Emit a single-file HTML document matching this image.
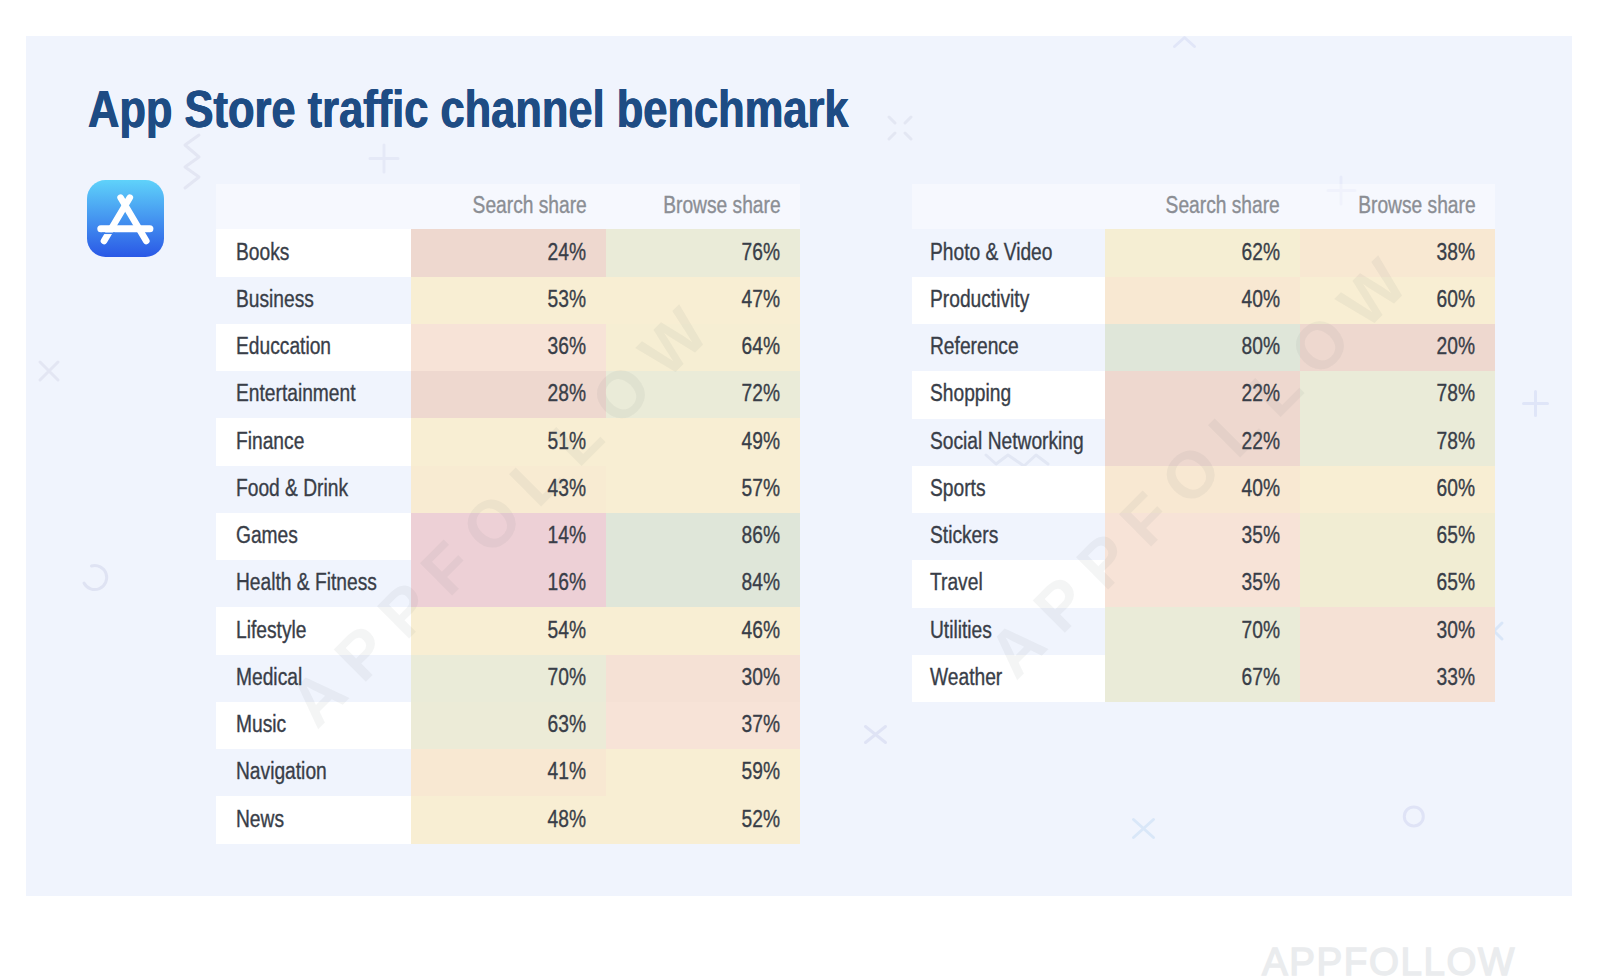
<!DOCTYPE html>
<html><head><meta charset="utf-8"><title>App Store traffic channel benchmark</title>
<style>
html,body{margin:0;padding:0;background:#fff;}
body{width:1600px;height:976px;position:relative;overflow:hidden;font-family:"Liberation Sans",sans-serif;}
#panel{position:absolute;left:25.5px;top:36.2px;width:1546.5px;height:859.6px;background:#f0f4fd;}
#title{position:absolute;left:88px;top:79.7px;font-size:51px;font-weight:bold;color:#1e4c84;white-space:nowrap;line-height:60px;transform-origin:0 50%;transform:scaleX(0.852);text-shadow:0.5px 0 0 #1e4c84,-0.5px 0 0 #1e4c84;}
.c{position:absolute;font-size:23px;color:#393e48;white-space:nowrap;-webkit-text-stroke:0.35px currentColor;}
.hd{position:absolute;background:rgba(255,255,255,0.38);}
.c span{position:absolute;top:50%;line-height:26px;margin-top:-14.5px;}
.c .l{transform-origin:0 50%;transform:scaleX(0.835);}
.c .r{transform-origin:100% 50%;transform:scaleX(0.835);}
.h{color:#8b8e94;}
#icon{position:absolute;left:86.6px;top:180.4px;width:77px;height:77px;}
.wm{position:absolute;font-size:66px;line-height:66px;font-weight:bold;letter-spacing:17px;color:rgba(110,115,125,0.075);white-space:nowrap;transform:translate(-50%,-50%) rotate(-45deg);}
#foot{position:absolute;left:1262px;top:940px;font-size:38.5px;letter-spacing:1.6px;color:#eaecee;-webkit-text-stroke:1.4px #eaecee;white-space:nowrap;line-height:44px;}
#deco{position:absolute;left:0;top:0;}
</style></head><body>
<div id="panel"></div>
<svg id="deco" width="1600" height="976" viewBox="0 0 1600 976" fill="none" stroke-linecap="round" stroke-linejoin="round" stroke-width="3">
<polyline points="199,135 185,145 199,157 185,167 199,177 185,188" stroke="#e3e6f3"/>
<path d="M384 145v27M370 158.5h28" stroke="#e5e9f7"/>
<path d="M889 117l6 6M911 117l-6 6M889 139l6-6M911 139l-6-6" stroke="#e3e7f3"/>
<polyline points="1174.500,46.500 1184.500,37.500 1194.500,46.500" stroke="#e1e6f8"/>
<path d="M1341 177v27M1328 190.500h27" stroke="#e7ebfa"/>
<path d="M40 362l18 18M58 362l-18 18" stroke="#e3e6f3"/>
<path d="M91.500 566a12 12 0 1 1-7.500 17" stroke="#dfe3f3"/>
<path d="M865.500 726.500l20 16M885.500 726.500l-20 16" stroke="#dfe3f5"/>
<path d="M1133.500 819.500l20 18M1153.500 819.500l-20 18" stroke="#d9e7f8"/>
<circle cx="1413.800" cy="816.400" r="9.500" stroke="#dfe3f6"/>
<path d="M1535.500 391.500v24M1523.500 403.500h24" stroke="#dfe5f8"/>
<path d="M1486 623l16 16M1502 623l-16 16" stroke="#d9e6f8"/>
<polyline points="986,455 996,464 1008,455 1024,466 1036,455 1048,464" stroke="#e2e7f4"/>
</svg>
<div id="title">App Store traffic channel benchmark</div>
<svg id="icon" viewBox="0 0 77 77"><defs><linearGradient id="g" x1="0" y1="0" x2="0" y2="1"><stop offset="0" stop-color="#5fd2fa"/><stop offset="1" stop-color="#2a58e6"/></linearGradient></defs>
<rect x="0" y="0" width="77" height="77" rx="18.5" ry="18.5" fill="url(#g)"/>
<g stroke="#fff" stroke-width="6.600" stroke-linecap="round" fill="none">
<line x1="33.6" y1="17.6" x2="59.3" y2="61"/><line x1="42.8" y1="17.6" x2="17" y2="61"/><line x1="13.8" y1="48.700" x2="62.9" y2="48.700" stroke-width="7"/></g>
<line x1="15" y1="53.300" x2="28" y2="53.300" stroke="#3b7fec" stroke-width="1.500"/></svg>
<div class="hd" style="left:216px;top:184px;width:584px;height:45.400000000000006px"></div>
<div class="c h" style="left:411px;top:184px;width:195px;height:45.400000000000006px"><span class="r" style="right:19.5px">Search share</span></div>
<div class="c h" style="left:606px;top:184px;width:194px;height:45.400000000000006px"><span class="r" style="right:19.5px">Browse share</span></div>
<div class="c n" style="left:216px;top:229.4px;width:195px;height:47.5px;background:#ffffff"><span class="l" style="left:19.8px">Books</span></div>
<div class="c v" style="left:411px;top:229.4px;width:195px;height:47.5px;background:#eed8cf"><span class="r" style="right:19.5px">24%</span></div>
<div class="c v" style="left:606px;top:229.4px;width:194px;height:47.5px;background:#eaebd8"><span class="r" style="right:19.5px">76%</span></div>
<div class="c n" style="left:216px;top:276.6px;width:195px;height:47.5px;background:transparent"><span class="l" style="left:19.8px">Business</span></div>
<div class="c v" style="left:411px;top:276.6px;width:195px;height:47.5px;background:#f8eed3"><span class="r" style="right:19.5px">53%</span></div>
<div class="c v" style="left:606px;top:276.6px;width:194px;height:47.5px;background:#f8eed3"><span class="r" style="right:19.5px">47%</span></div>
<div class="c n" style="left:216px;top:323.9px;width:195px;height:47.5px;background:#ffffff"><span class="l" style="left:19.8px">Educcation</span></div>
<div class="c v" style="left:411px;top:323.9px;width:195px;height:47.5px;background:#f7e3d7"><span class="r" style="right:19.5px">36%</span></div>
<div class="c v" style="left:606px;top:323.9px;width:194px;height:47.5px;background:#f6eed3"><span class="r" style="right:19.5px">64%</span></div>
<div class="c n" style="left:216px;top:371.1px;width:195px;height:47.5px;background:transparent"><span class="l" style="left:19.8px">Entertainment</span></div>
<div class="c v" style="left:411px;top:371.1px;width:195px;height:47.5px;background:#eed8cf"><span class="r" style="right:19.5px">28%</span></div>
<div class="c v" style="left:606px;top:371.1px;width:194px;height:47.5px;background:#eaebd8"><span class="r" style="right:19.5px">72%</span></div>
<div class="c n" style="left:216px;top:418.4px;width:195px;height:47.5px;background:#ffffff"><span class="l" style="left:19.8px">Finance</span></div>
<div class="c v" style="left:411px;top:418.4px;width:195px;height:47.5px;background:#f8eed3"><span class="r" style="right:19.5px">51%</span></div>
<div class="c v" style="left:606px;top:418.4px;width:194px;height:47.5px;background:#f8eed3"><span class="r" style="right:19.5px">49%</span></div>
<div class="c n" style="left:216px;top:465.6px;width:195px;height:47.5px;background:transparent"><span class="l" style="left:19.8px">Food &amp; Drink</span></div>
<div class="c v" style="left:411px;top:465.6px;width:195px;height:47.5px;background:#f8ebd2"><span class="r" style="right:19.5px">43%</span></div>
<div class="c v" style="left:606px;top:465.6px;width:194px;height:47.5px;background:#f8eed3"><span class="r" style="right:19.5px">57%</span></div>
<div class="c n" style="left:216px;top:512.9px;width:195px;height:47.5px;background:#ffffff"><span class="l" style="left:19.8px">Games</span></div>
<div class="c v" style="left:411px;top:512.9px;width:195px;height:47.5px;background:#edd0d6"><span class="r" style="right:19.5px">14%</span></div>
<div class="c v" style="left:606px;top:512.9px;width:194px;height:47.5px;background:#dfe6d9"><span class="r" style="right:19.5px">86%</span></div>
<div class="c n" style="left:216px;top:560.1px;width:195px;height:47.5px;background:transparent"><span class="l" style="left:19.8px">Health &amp; Fitness</span></div>
<div class="c v" style="left:411px;top:560.1px;width:195px;height:47.5px;background:#edd0d6"><span class="r" style="right:19.5px">16%</span></div>
<div class="c v" style="left:606px;top:560.1px;width:194px;height:47.5px;background:#dfe6d9"><span class="r" style="right:19.5px">84%</span></div>
<div class="c n" style="left:216px;top:607.4px;width:195px;height:47.5px;background:#ffffff"><span class="l" style="left:19.8px">Lifestyle</span></div>
<div class="c v" style="left:411px;top:607.4px;width:195px;height:47.5px;background:#f8eed3"><span class="r" style="right:19.5px">54%</span></div>
<div class="c v" style="left:606px;top:607.4px;width:194px;height:47.5px;background:#f8eed3"><span class="r" style="right:19.5px">46%</span></div>
<div class="c n" style="left:216px;top:654.6px;width:195px;height:47.5px;background:transparent"><span class="l" style="left:19.8px">Medical</span></div>
<div class="c v" style="left:411px;top:654.6px;width:195px;height:47.5px;background:#eaebd8"><span class="r" style="right:19.5px">70%</span></div>
<div class="c v" style="left:606px;top:654.6px;width:194px;height:47.5px;background:#f5e1d5"><span class="r" style="right:19.5px">30%</span></div>
<div class="c n" style="left:216px;top:701.9px;width:195px;height:47.5px;background:#ffffff"><span class="l" style="left:19.8px">Music</span></div>
<div class="c v" style="left:411px;top:701.9px;width:195px;height:47.5px;background:#ecebd7"><span class="r" style="right:19.5px">63%</span></div>
<div class="c v" style="left:606px;top:701.9px;width:194px;height:47.5px;background:#f7e3d7"><span class="r" style="right:19.5px">37%</span></div>
<div class="c n" style="left:216px;top:749.1px;width:195px;height:47.5px;background:transparent"><span class="l" style="left:19.8px">Navigation</span></div>
<div class="c v" style="left:411px;top:749.1px;width:195px;height:47.5px;background:#f8e8d2"><span class="r" style="right:19.5px">41%</span></div>
<div class="c v" style="left:606px;top:749.1px;width:194px;height:47.5px;background:#f8eed3"><span class="r" style="right:19.5px">59%</span></div>
<div class="c n" style="left:216px;top:796.4px;width:195px;height:47.5px;background:#ffffff"><span class="l" style="left:19.8px">News</span></div>
<div class="c v" style="left:411px;top:796.4px;width:195px;height:47.5px;background:#f8eed3"><span class="r" style="right:19.5px">48%</span></div>
<div class="c v" style="left:606px;top:796.4px;width:194px;height:47.5px;background:#f8eed3"><span class="r" style="right:19.5px">52%</span></div>
<div class="hd" style="left:912px;top:184px;width:583.3px;height:45.400000000000006px"></div>
<div class="c h" style="left:1105px;top:184px;width:194.5px;height:45.400000000000006px"><span class="r" style="right:19.8px">Search share</span></div>
<div class="c h" style="left:1299.5px;top:184px;width:195.79999999999995px;height:45.400000000000006px"><span class="r" style="right:19.8px">Browse share</span></div>
<div class="c n" style="left:912px;top:229.4px;width:193px;height:47.5px;background:transparent"><span class="l" style="left:18px">Photo &amp; Video</span></div>
<div class="c v" style="left:1105px;top:229.4px;width:194.5px;height:47.5px;background:#f5eed3"><span class="r" style="right:19.8px">62%</span></div>
<div class="c v" style="left:1299.5px;top:229.4px;width:195.79999999999995px;height:47.5px;background:#f8e8d2"><span class="r" style="right:19.8px">38%</span></div>
<div class="c n" style="left:912px;top:276.6px;width:193px;height:47.5px;background:#ffffff"><span class="l" style="left:18px">Productivity</span></div>
<div class="c v" style="left:1105px;top:276.6px;width:194.5px;height:47.5px;background:#f8e8d2"><span class="r" style="right:19.8px">40%</span></div>
<div class="c v" style="left:1299.5px;top:276.6px;width:195.79999999999995px;height:47.5px;background:#f8eed3"><span class="r" style="right:19.8px">60%</span></div>
<div class="c n" style="left:912px;top:323.9px;width:193px;height:47.5px;background:transparent"><span class="l" style="left:18px">Reference</span></div>
<div class="c v" style="left:1105px;top:323.9px;width:194.5px;height:47.5px;background:#dfe6d9"><span class="r" style="right:19.8px">80%</span></div>
<div class="c v" style="left:1299.5px;top:323.9px;width:195.79999999999995px;height:47.5px;background:#eed8cf"><span class="r" style="right:19.8px">20%</span></div>
<div class="c n" style="left:912px;top:371.1px;width:193px;height:47.5px;background:#ffffff"><span class="l" style="left:18px">Shopping</span></div>
<div class="c v" style="left:1105px;top:371.1px;width:194.5px;height:47.5px;background:#eed8cf"><span class="r" style="right:19.8px">22%</span></div>
<div class="c v" style="left:1299.5px;top:371.1px;width:195.79999999999995px;height:47.5px;background:#eaebd8"><span class="r" style="right:19.8px">78%</span></div>
<div class="c n" style="left:912px;top:418.4px;width:193px;height:47.5px;background:transparent"><span class="l" style="left:18px">Social Networking</span></div>
<div class="c v" style="left:1105px;top:418.4px;width:194.5px;height:47.5px;background:#eed8cf"><span class="r" style="right:19.8px">22%</span></div>
<div class="c v" style="left:1299.5px;top:418.4px;width:195.79999999999995px;height:47.5px;background:#eaebd8"><span class="r" style="right:19.8px">78%</span></div>
<div class="c n" style="left:912px;top:465.6px;width:193px;height:47.5px;background:#ffffff"><span class="l" style="left:18px">Sports</span></div>
<div class="c v" style="left:1105px;top:465.6px;width:194.5px;height:47.5px;background:#f8e8d2"><span class="r" style="right:19.8px">40%</span></div>
<div class="c v" style="left:1299.5px;top:465.6px;width:195.79999999999995px;height:47.5px;background:#f8eed3"><span class="r" style="right:19.8px">60%</span></div>
<div class="c n" style="left:912px;top:512.9px;width:193px;height:47.5px;background:transparent"><span class="l" style="left:18px">Stickers</span></div>
<div class="c v" style="left:1105px;top:512.9px;width:194.5px;height:47.5px;background:#f7e3d7"><span class="r" style="right:19.8px">35%</span></div>
<div class="c v" style="left:1299.5px;top:512.9px;width:195.79999999999995px;height:47.5px;background:#f1edd3"><span class="r" style="right:19.8px">65%</span></div>
<div class="c n" style="left:912px;top:560.1px;width:193px;height:47.5px;background:#ffffff"><span class="l" style="left:18px">Travel</span></div>
<div class="c v" style="left:1105px;top:560.1px;width:194.5px;height:47.5px;background:#f7e3d7"><span class="r" style="right:19.8px">35%</span></div>
<div class="c v" style="left:1299.5px;top:560.1px;width:195.79999999999995px;height:47.5px;background:#f1edd3"><span class="r" style="right:19.8px">65%</span></div>
<div class="c n" style="left:912px;top:607.4px;width:193px;height:47.5px;background:transparent"><span class="l" style="left:18px">Utilities</span></div>
<div class="c v" style="left:1105px;top:607.4px;width:194.5px;height:47.5px;background:#eaebd8"><span class="r" style="right:19.8px">70%</span></div>
<div class="c v" style="left:1299.5px;top:607.4px;width:195.79999999999995px;height:47.5px;background:#f5e1d5"><span class="r" style="right:19.8px">30%</span></div>
<div class="c n" style="left:912px;top:654.6px;width:193px;height:47.5px;background:#ffffff"><span class="l" style="left:18px">Weather</span></div>
<div class="c v" style="left:1105px;top:654.6px;width:194.5px;height:47.5px;background:#eaebd8"><span class="r" style="right:19.8px">67%</span></div>
<div class="c v" style="left:1299.5px;top:654.6px;width:195.79999999999995px;height:47.5px;background:#f5e1d5"><span class="r" style="right:19.8px">33%</span></div>
<div class="wm" style="left:504px;top:511px">APPFOLLOW</div>
<div class="wm" style="left:1203px;top:462px">APPFOLLOW</div>
<div id="foot">APPFOLLOW</div>
</body></html>
